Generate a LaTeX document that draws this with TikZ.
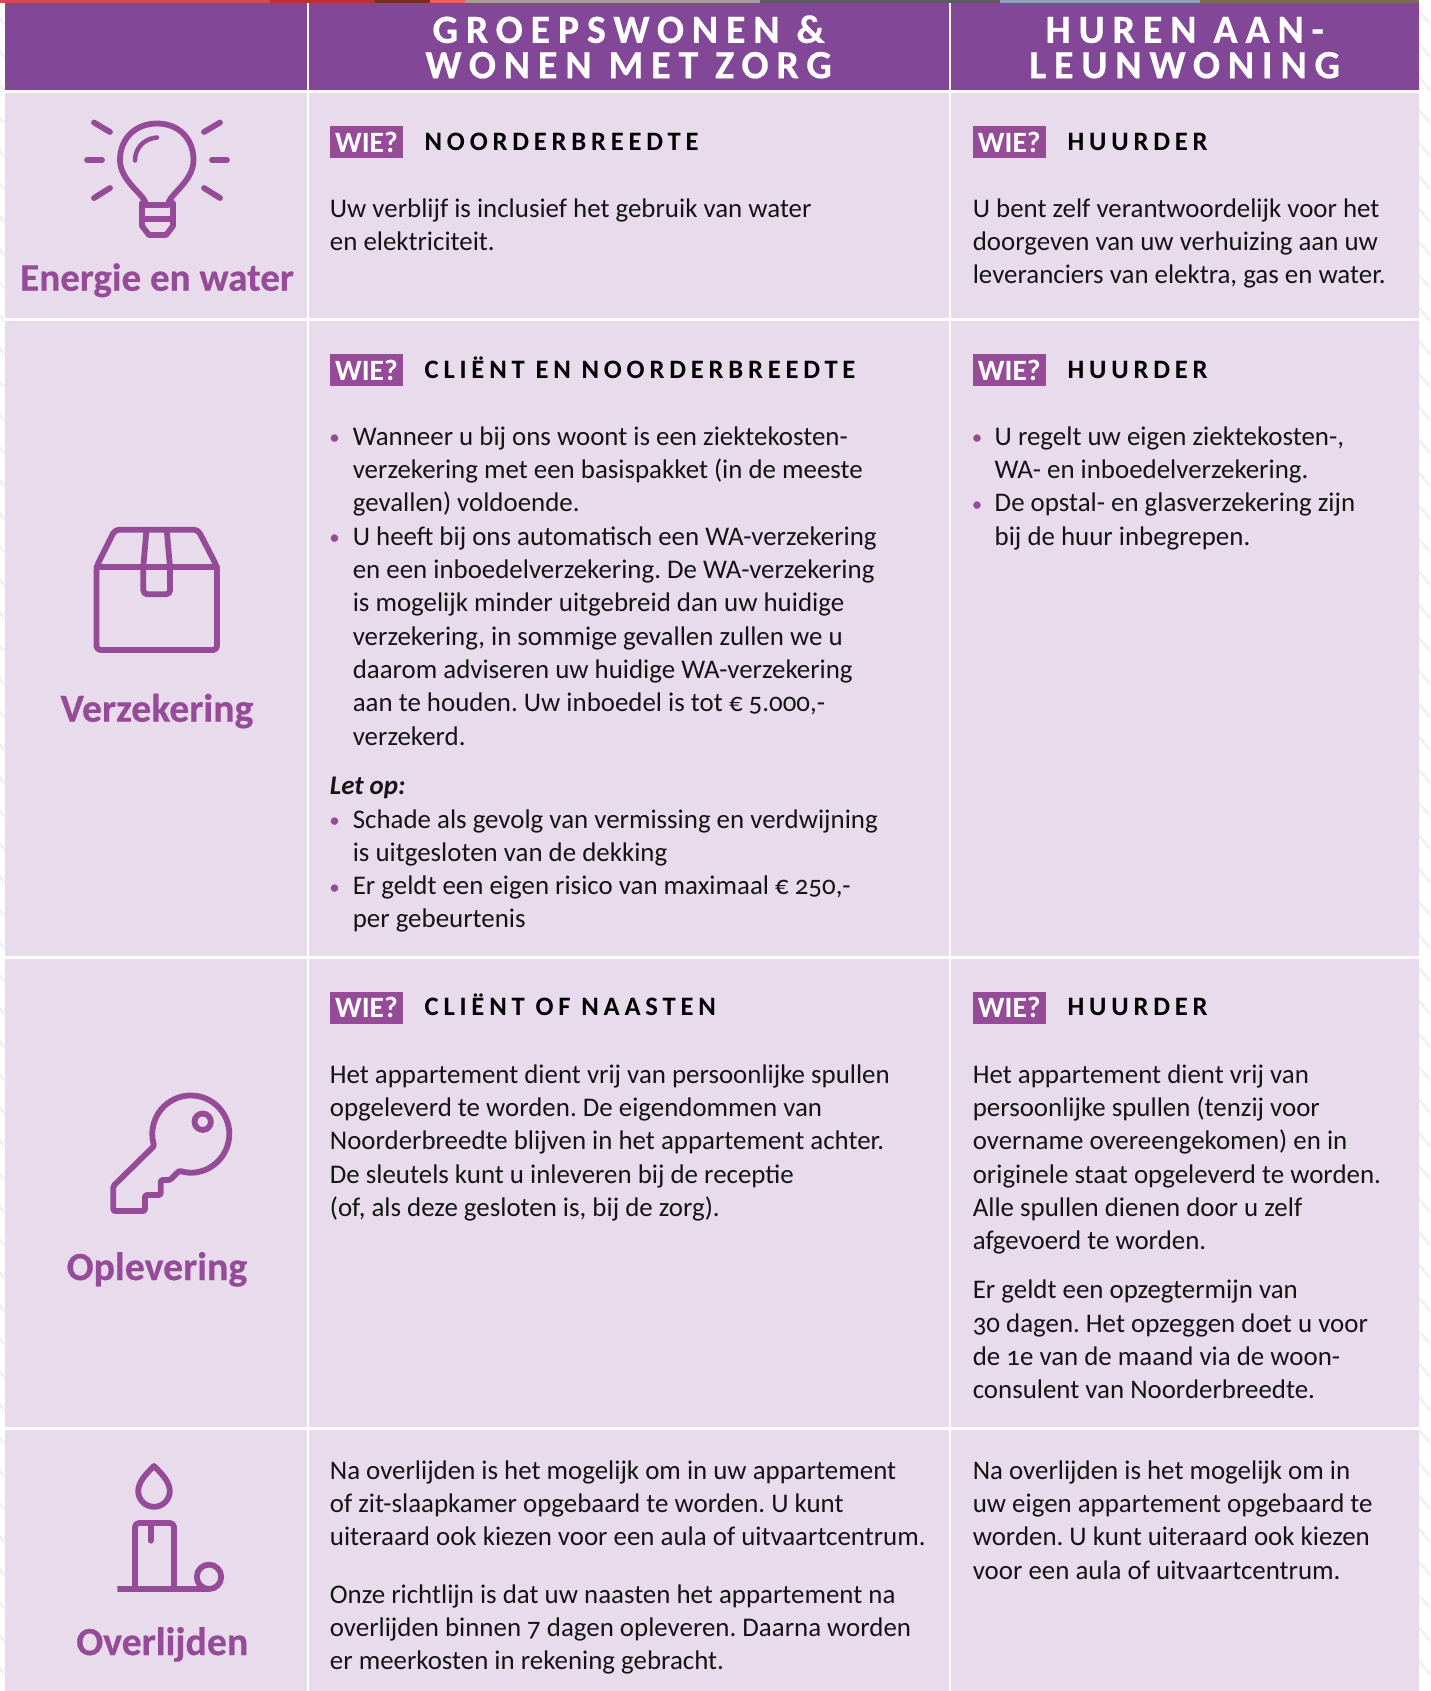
\documentclass[tikz,border=0pt]{standalone}
\usepackage{fontspec}
\setmainfont{Carlito}[Numbers=OldStyle]
\newfontfamily\spaced{Carlito}[LetterSpace=18,Numbers=OldStyle]
\newfontfamily\hspaced{Carlito}[LetterSpace=19.5,Numbers=OldStyle,BoldFeatures={FakeBold=0.5}]
\newfontfamily\labfont{Carlito}[BoldFeatures={FakeBold=0.4}]
\newcommand{\eur}{{\addfontfeature{Numbers=Lining}€}}
\frenchspacing
\definecolor{headpur}{HTML}{834797}
\definecolor{cellpur}{HTML}{E7DBEC}
\definecolor{mainpur}{HTML}{964B98}
\definecolor{ink}{HTML}{141414}
\definecolor{stripe}{HTML}{F8EEF5}
\definecolor{pa}{HTML}{D04C55}
\definecolor{pb}{HTML}{B8303A}
\definecolor{pc}{HTML}{7A2A2A}
\definecolor{pd}{HTML}{E8605F}
\definecolor{pe}{HTML}{A89C98}
\definecolor{pf}{HTML}{5E5A60}
\definecolor{pg}{HTML}{8FA0B5}
\definecolor{ph}{HTML}{7B6A58}
\tikzset{
  x=1pt,y=1pt,
  txt/.style={inner sep=0pt,anchor=north west,align=left,text=ink,font=\fontsize{26.9}{33.3}\selectfont},
  bul/.style={inner sep=0pt,anchor=base,text=mainpur,font=\fontsize{21}{30}\selectfont},
  head/.style={inner sep=0pt,anchor=north,align=center,text=white,font=\hspaced\bfseries\fontsize{40}{35.3}\selectfont},
  wiebox/.style={fill=mainpur,text=white,inner sep=0pt,minimum width=73pt,minimum height=32pt,anchor=north west,font=\fontsize{29.5}{30}\selectfont\bfseries},
  who/.style={inner sep=0pt,anchor=base west,text=black,font=\spaced\bfseries\fontsize{26.6}{30}\selectfont},
  rowlab/.style={inner sep=0pt,anchor=base,text=mainpur,font=\labfont\bfseries\fontsize{39.8}{40}\selectfont},
  icon/.style={draw=mainpur,line width=5.8pt,line cap=round,line join=round},
}
\newcommand{\blk}[4]{\node[txt] (#1) at (#2,-#3-0.4+24) {\rule{0pt}{24pt}#4};}
\newcommand{\wie}[4]{\node[wiebox] (#1b) at (#2,-#3) {WIE?};\node[who] (#1w) at (#2+94.8,-#3-24) {#4};}
\begin{document}
\begin{tikzpicture}
\useasboundingbox (0,0) rectangle (1430,-1691);
\fill[white] (0,0) rectangle (1430,-1691);
% margin stripes
\begin{scope}
\clip (0,0) rectangle (4.5,-1691) (1418.5,0) rectangle (1430,-1691);
\foreach \k in {0,...,52}{
  \draw[stripe,line width=3pt] (1418,-10-33*\k) -- (1432,-26-33*\k);
  \draw[stripe,line width=3pt] (-8,-10-33*\k) -- (8,-28-33*\k);
}
\end{scope}
% photo strip
\fill[pa] (0,0) rectangle (270,-2.7);
\fill[pb] (270,0) rectangle (375,-2.7);
\fill[pc] (375,0) rectangle (430,-2.7);
\fill[pd] (430,0) rectangle (465,-2.7);
\fill[pe] (465,0) rectangle (760,-2.7);
\fill[pf] (760,0) rectangle (1000,-2.7);
\fill[pg] (1000,0) rectangle (1200,-2.7);
\fill[ph] (1200,0) rectangle (1419,-2.7);
% cells
\foreach \xa/\xb in {4.5/306.5,308.7/948.5,951/1418.5}{
  \fill[headpur] (\xa,-2.7) rectangle (\xb,-90.3);
  \fill[cellpur] (\xa,-92.7) rectangle (\xb,-317.7);
  \fill[cellpur] (\xa,-320.7) rectangle (\xb,-955.5);
  \fill[cellpur] (\xa,-958.5) rectangle (\xb,-1426.7);
  \fill[cellpur] (\xa,-1429.7) rectangle (\xb,-1691);
}
% header
\node[head] (h1) at (628.6,-12.7) {\rule{0pt}{30pt}GROEPSWONEN \&\\WONEN MET ZORG};
\node[head] (h2) at (1184.7,-12.7) {\rule{0pt}{30pt}HUREN AAN-\\LEUNWONING};
% row labels
\node[rowlab,font=\labfont\bfseries\fontsize{39.1}{40}\selectfont] (l1) at (157,-290.7) {Energie en water};
\node[rowlab] (l2) at (157,-721.7) {Verzekering};
\node[rowlab] (l3) at (157,-1280) {Oplevering};
\node[rowlab] (l4) at (162.3,-1655) {Overlijden};
% WIE
\wie{a1}{329.7}{126}{NOORDERBREEDTE}
\wie{a2}{972.6}{126}{HUURDER}
\wie{b1}{329.7}{354}{CLIËNT EN NOORDERBREEDTE}
\wie{b2}{972.6}{354}{HUURDER}
\wie{c1}{329.7}{991.5}{CLIËNT OF NAASTEN}
\wie{c2}{972.6}{991.5}{HUURDER}
% row 1
\blk{t1}{329.7}{216.7}{Uw verblijf is inclusief het gebruik van water\\en elektriciteit.}
\blk{t2}{972.6}{216.7}{U bent zelf verantwoordelijk voor het\\doorgeven van uw verhuizing aan uw\\leveranciers van elektra, gas en water.}
% row 2
\node[bul] (bu1) at (334.5,-444.7) {•};
\blk{t3}{352.6}{444.7}{Wanneer u bij ons woont is een ziektekosten-\\verzekering met een basispakket (in de meeste\\gevallen) voldoende.}
\node[bul] (bu2) at (334.5,-544.6) {•};
\blk{t4}{352.6}{544.6}{U heeft bij ons automatisch een WA-verzekering\\en een inboedelverzekering. De WA-verzekering\\is mogelijk minder uitgebreid dan uw huidige\\verzekering, in sommige gevallen zullen we u\\daarom adviseren uw huidige WA-verzekering\\aan te houden. Uw inboedel is tot \eur{} 5.000,-\\verzekerd.}
\node[txt,font=\fontsize{26.9}{33.3}\selectfont\bfseries\itshape] (t5) at (329.7,-770) {\rule{0pt}{24pt}Let op:};
\node[bul] (bu3) at (334.5,-827.5) {•};
\blk{t6}{352.6}{827.5}{Schade als gevolg van vermissing en verdwijning\\is uitgesloten van de dekking}
\node[bul] (bu4) at (334.5,-894) {•};
\blk{t7}{352.6}{894}{Er geldt een eigen risico van maximaal \eur{} 250,-\\per gebeurtenis}
\node[bul] (bu5) at (977,-444.7) {•};
\blk{t8}{994.5}{444.7}{U regelt uw eigen ziektekosten-,\\WA- en inboedelverzekering.}
\node[bul] (bu6) at (977,-511.3) {•};
\blk{t9}{994.5}{511.3}{De opstal- en glasverzekering zijn\\bij de huur inbegrepen.}
% row 3
\blk{t10}{329.7}{1082.7}{Het appartement dient vrij van persoonlijke spullen\\opgeleverd te worden. De eigendommen van\\Noorderbreedte blijven in het appartement achter.\\De sleutels kunt u inleveren bij de receptie\\(of, als deze gesloten is, bij de zorg).}
\blk{t11}{972.6}{1082.7}{Het appartement dient vrij van\\persoonlijke spullen (tenzij voor\\overname overeengekomen) en in\\originele staat opgeleverd te worden.\\Alle spullen dienen door u zelf\\afgevoerd te worden.}
\blk{t12}{972.6}{1298.2}{Er geldt een opzegtermijn van\\30 dagen. Het opzeggen doet u voor\\de 1e van de maand via de woon-\\consulent van Noorderbreedte.}
% row 4
\blk{t13}{329.7}{1478.5}{Na overlijden is het mogelijk om in uw appartement\\of zit-slaapkamer opgebaard te worden. U kunt\\uiteraard ook kiezen voor een aula of uitvaartcentrum.}
\blk{t14}{329.7}{1602.5}{Onze richtlijn is dat uw naasten het appartement na\\overlijden binnen 7 dagen opleveren. Daarna worden\\er meerkosten in rekening gebracht.}
\blk{t15}{972.6}{1478.5}{Na overlijden is het mogelijk om in\\uw eigen appartement opgebaard te\\worden. U kunt uiteraard ook kiezen\\voor een aula of uitvaartcentrum.}
% bulb
\draw[icon] (146,-205) .. controls (146,-195) and (120,-182) .. (120,-160)
  .. controls (120,-138) and (136,-123.5) .. (157,-123.5)
  .. controls (178,-123.5) and (193.5,-138) .. (193.5,-160)
  .. controls (193.5,-182) and (168,-195) .. (168,-205) -- cycle;
\draw[icon] (142,-203) -- (142,-226) -- (149,-235) -- (166,-235) -- (173,-226) -- (173,-203);
\draw[icon] (142,-219) -- (173,-219);
\draw[icon,line width=4.5pt] (135,-160.5) .. controls (135,-148) and (144,-138.5) .. (157,-137.5);
\draw[icon] (87,-160) -- (102,-160);
\draw[icon] (212,-160) -- (227,-160);
\draw[icon] (94,-122.5) -- (110,-132);
\draw[icon] (220,-122.5) -- (204,-132);
\draw[icon] (110,-188) -- (94,-198);
\draw[icon] (204,-188) -- (220,-198);
% box
\draw[icon,rounded corners=4pt] (96.5,-566.7) -- (115,-529.7) -- (198,-529.7) -- (217,-566.7) -- (217,-650) -- (96.5,-650) -- cycle;
\draw[icon] (96.5,-566.7) -- (217,-566.7);
\draw[icon,rounded corners=4pt] (146.5,-529.7) -- (143.3,-566.7) -- (143.3,-594.3) -- (170,-594.3) -- (170,-566.7) -- (166.7,-529.7);
% key
\draw[icon,rounded corners=1.5pt] (179.3,-1170.7) arc[start angle=252.6,end angle=558,radius=38.5pt]
  -- (113.3,-1186) -- (113.3,-1211) -- (145,-1211) -- (145,-1195) -- (160.7,-1195) -- (160.7,-1180) -- (170,-1180) -- cycle;
\draw[icon] (202.7,-1121.7) circle[radius=8.2pt];
% candle
\draw[icon] (154,-1466) .. controls (146,-1474) and (138.2,-1482) .. (138.2,-1491)
  arc[start angle=180,end angle=360,radius=15.8pt]
  .. controls (169.8,-1482) and (162,-1474) .. (154,-1466) -- cycle;
\draw[icon,rounded corners=4pt] (135,-1589) -- (135,-1523) -- (174,-1523) -- (174,-1589);
\draw[icon] (150.7,-1523) -- (150.7,-1540.7);
\draw[icon,line cap=butt] (117.3,-1589) -- (209,-1589) arc[start angle=270,end angle=630,radius=12.2pt];
\end{tikzpicture}
\end{document}
